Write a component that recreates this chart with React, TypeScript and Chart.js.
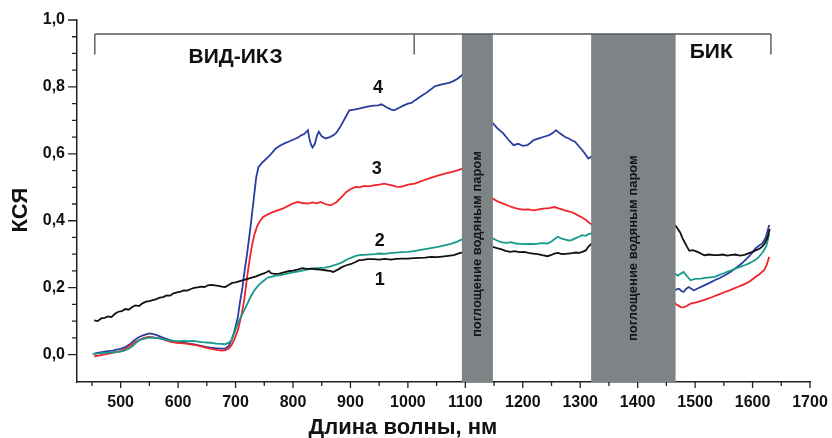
import { useEffect, useRef } from "react";
import { Chart, registerables } from "chart.js";

Chart.register(...registerables);

// ---------- data ----------
const wl1 = [454, 460, 466, 472, 478, 484, 490, 496, 502, 508, 514, 520, 526, 532, 538, 544, 550, 556, 562, 568, 574, 580, 586, 592, 598, 604, 610, 616, 622, 628, 634, 640, 646, 652, 658, 664, 670, 676, 682, 688, 694, 700, 706, 712, 718, 724, 730, 736, 742, 748, 754, 758, 762, 768, 776, 784, 792, 800, 808, 816, 824, 832, 840, 848, 856, 864, 870, 878, 886, 893, 900, 908, 915, 922, 930, 940, 950, 960, 971, 980, 990, 1000, 1010, 1020, 1030, 1040, 1050, 1060, 1070, 1080, 1090, 1094, 1148, 1155, 1162, 1170, 1178, 1186, 1194, 1202, 1210, 1218, 1226, 1234, 1243, 1250, 1255, 1261, 1268, 1274, 1279, 1286, 1292, 1298, 1304, 1310, 1314, 1319, 1466, 1470, 1474, 1478, 1482, 1486, 1490, 1496, 1504, 1510, 1516, 1524, 1532, 1540, 1548, 1556, 1564, 1570, 1578, 1586, 1594, 1600, 1606, 1612, 1618, 1622, 1626, 1630];
const ks1 = [0.102, 0.100, 0.108, 0.110, 0.114, 0.112, 0.122, 0.128, 0.130, 0.136, 0.134, 0.142, 0.147, 0.145, 0.153, 0.158, 0.160, 0.163, 0.166, 0.170, 0.172, 0.177, 0.176, 0.183, 0.186, 0.188, 0.192, 0.191, 0.196, 0.199, 0.201, 0.203, 0.202, 0.207, 0.208, 0.207, 0.205, 0.203, 0.202, 0.208, 0.214, 0.216, 0.219, 0.222, 0.225, 0.228, 0.231, 0.234, 0.238, 0.242, 0.246, 0.250, 0.243, 0.241, 0.242, 0.246, 0.249, 0.251, 0.254, 0.258, 0.256, 0.257, 0.255, 0.254, 0.252, 0.250, 0.247, 0.254, 0.262, 0.267, 0.270, 0.276, 0.282, 0.283, 0.285, 0.285, 0.284, 0.286, 0.284, 0.286, 0.287, 0.287, 0.288, 0.289, 0.290, 0.292, 0.291, 0.293, 0.295, 0.297, 0.303, 0.305, 0.322, 0.318, 0.315, 0.310, 0.307, 0.309, 0.306, 0.307, 0.304, 0.302, 0.300, 0.297, 0.294, 0.298, 0.302, 0.304, 0.300, 0.301, 0.302, 0.303, 0.305, 0.304, 0.307, 0.312, 0.322, 0.330, 0.385, 0.375, 0.365, 0.348, 0.335, 0.322, 0.310, 0.312, 0.307, 0.302, 0.297, 0.299, 0.297, 0.297, 0.299, 0.296, 0.298, 0.299, 0.296, 0.298, 0.303, 0.307, 0.312, 0.316, 0.325, 0.335, 0.350, 0.375];

const wl2 = [451, 460, 470, 480, 490, 498, 506, 515, 522, 528, 534, 540, 547, 554, 560, 566, 572, 580, 587, 593, 600, 610, 618, 626, 634, 642, 650, 659, 666, 674, 682, 688, 693, 698, 704, 710, 715, 720, 726, 732, 738, 743, 750, 756, 762, 770, 776, 784, 792, 800, 808, 816, 824, 832, 840, 848, 856, 864, 872, 880, 887, 894, 902, 908, 915, 922, 930, 943, 950, 960, 972, 980, 990, 1000, 1010, 1020, 1030, 1040, 1050, 1060, 1065, 1075, 1085, 1094, 1148, 1155, 1162, 1172, 1180, 1188, 1195, 1202, 1212, 1222, 1232, 1243, 1250, 1256, 1261, 1267, 1273, 1280, 1285, 1292, 1298, 1303, 1310, 1314, 1319, 1466, 1470, 1475, 1480, 1486, 1492, 1500, 1510, 1518, 1526, 1534, 1542, 1550, 1557, 1563, 1570, 1578, 1586, 1593, 1600, 1606, 1611, 1616, 1620, 1624, 1629];
const ks2 = [0.001, 0.003, 0.005, 0.006, 0.007, 0.008, 0.012, 0.018, 0.027, 0.037, 0.044, 0.047, 0.050, 0.051, 0.050, 0.049, 0.047, 0.044, 0.042, 0.041, 0.040, 0.041, 0.040, 0.041, 0.039, 0.037, 0.036, 0.035, 0.033, 0.032, 0.031, 0.035, 0.043, 0.065, 0.093, 0.115, 0.132, 0.150, 0.172, 0.190, 0.203, 0.212, 0.222, 0.230, 0.232, 0.236, 0.237, 0.240, 0.243, 0.246, 0.248, 0.251, 0.254, 0.257, 0.258, 0.259, 0.260, 0.263, 0.267, 0.272, 0.277, 0.284, 0.290, 0.294, 0.297, 0.298, 0.299, 0.300, 0.302, 0.301, 0.304, 0.305, 0.306, 0.307, 0.309, 0.312, 0.315, 0.318, 0.321, 0.325, 0.327, 0.331, 0.337, 0.344, 0.347, 0.341, 0.336, 0.334, 0.336, 0.332, 0.331, 0.330, 0.331, 0.330, 0.333, 0.332, 0.338, 0.346, 0.352, 0.347, 0.344, 0.341, 0.342, 0.348, 0.352, 0.357, 0.355, 0.360, 0.362, 0.240, 0.236, 0.242, 0.247, 0.234, 0.222, 0.226, 0.227, 0.229, 0.231, 0.232, 0.238, 0.243, 0.248, 0.252, 0.257, 0.262, 0.267, 0.272, 0.278, 0.284, 0.292, 0.302, 0.312, 0.325, 0.360];

const wl3 = [454, 462, 470, 478, 486, 493, 500, 509, 516, 522, 528, 534, 540, 548, 555, 562, 570, 578, 587, 595, 605, 615, 625, 635, 643, 652, 660, 670, 676, 682, 688, 693, 698, 704, 710, 715, 720, 725, 729, 733, 737, 742, 748, 756, 765, 773, 782, 790, 800, 809, 817, 826, 834, 841, 848, 856, 865, 870, 876, 884, 893, 900, 909, 916, 924, 932, 940, 950, 959, 966, 974, 980, 987, 995, 1000, 1012, 1020, 1028, 1036, 1045, 1055, 1065, 1075, 1085, 1094, 1148, 1156, 1166, 1176, 1184, 1190, 1200, 1210, 1219, 1228, 1236, 1246, 1255, 1262, 1268, 1273, 1280, 1288, 1296, 1304, 1310, 1316, 1319, 1466, 1470, 1475, 1480, 1486, 1492, 1500, 1508, 1515, 1522, 1530, 1537, 1545, 1552, 1560, 1567, 1574, 1581, 1588, 1596, 1605, 1612, 1620, 1624, 1629];
const ks3 = [-0.005, -0.003, 0.000, 0.002, 0.005, 0.008, 0.010, 0.018, 0.026, 0.033, 0.040, 0.045, 0.049, 0.053, 0.052, 0.050, 0.048, 0.043, 0.038, 0.036, 0.034, 0.033, 0.030, 0.027, 0.023, 0.019, 0.016, 0.013, 0.012, 0.013, 0.018, 0.028, 0.045, 0.073, 0.115, 0.162, 0.230, 0.290, 0.330, 0.360, 0.381, 0.398, 0.411, 0.419, 0.426, 0.431, 0.436, 0.443, 0.452, 0.456, 0.453, 0.451, 0.455, 0.452, 0.456, 0.450, 0.446, 0.450, 0.456, 0.470, 0.486, 0.494, 0.501, 0.500, 0.504, 0.503, 0.506, 0.508, 0.511, 0.508, 0.505, 0.502, 0.501, 0.505, 0.508, 0.511, 0.516, 0.521, 0.526, 0.531, 0.536, 0.541, 0.545, 0.550, 0.555, 0.466, 0.458, 0.451, 0.444, 0.439, 0.436, 0.433, 0.434, 0.431, 0.434, 0.436, 0.438, 0.441, 0.437, 0.434, 0.431, 0.428, 0.424, 0.416, 0.409, 0.402, 0.393, 0.390, 0.152, 0.147, 0.142, 0.141, 0.146, 0.152, 0.155, 0.159, 0.163, 0.167, 0.172, 0.177, 0.182, 0.187, 0.192, 0.197, 0.202, 0.207, 0.212, 0.220, 0.232, 0.240, 0.252, 0.265, 0.292];

const wl4 = [454, 462, 470, 478, 486, 493, 500, 509, 516, 522, 528, 534, 540, 546, 551, 557, 563, 570, 578, 586, 593, 600, 610, 620, 630, 640, 648, 656, 665, 674, 682, 688, 693, 698, 704, 708, 712, 715, 720, 726, 732, 736, 740, 746, 754, 762, 770, 778, 786, 792, 800, 808, 815, 820, 826, 829, 832, 834, 838, 842, 845, 850, 857, 864, 871, 876, 882, 890, 898, 906, 915, 922, 932, 940, 948, 954, 962, 970, 976, 984, 992, 1000, 1006, 1014, 1022, 1030, 1038, 1047, 1056, 1065, 1072, 1080, 1087, 1094, 1148, 1156, 1166, 1175, 1184, 1192, 1200, 1208, 1214, 1219, 1228, 1237, 1246, 1252, 1258, 1264, 1273, 1280, 1286, 1291, 1298, 1304, 1308, 1314, 1319, 1463, 1468, 1472, 1476, 1480, 1484, 1489, 1494, 1498, 1506, 1516, 1526, 1534, 1543, 1552, 1560, 1568, 1575, 1581, 1588, 1596, 1605, 1611, 1617, 1623, 1629];
const ks4 = [0.003, 0.006, 0.008, 0.010, 0.012, 0.015, 0.017, 0.023, 0.031, 0.040, 0.048, 0.054, 0.058, 0.061, 0.063, 0.061, 0.058, 0.053, 0.048, 0.043, 0.038, 0.036, 0.035, 0.033, 0.030, 0.026, 0.023, 0.021, 0.019, 0.018, 0.018, 0.025, 0.043, 0.070, 0.112, 0.160, 0.200, 0.242, 0.300, 0.381, 0.470, 0.530, 0.561, 0.573, 0.586, 0.600, 0.616, 0.625, 0.632, 0.636, 0.642, 0.648, 0.656, 0.660, 0.671, 0.641, 0.625, 0.619, 0.630, 0.655, 0.666, 0.652, 0.646, 0.650, 0.656, 0.664, 0.680, 0.705, 0.730, 0.732, 0.735, 0.738, 0.742, 0.744, 0.745, 0.748, 0.740, 0.733, 0.730, 0.737, 0.744, 0.750, 0.752, 0.762, 0.771, 0.780, 0.790, 0.802, 0.806, 0.810, 0.812, 0.818, 0.825, 0.835, 0.691, 0.676, 0.661, 0.642, 0.626, 0.630, 0.624, 0.626, 0.634, 0.641, 0.646, 0.651, 0.656, 0.662, 0.671, 0.662, 0.651, 0.646, 0.640, 0.636, 0.622, 0.610, 0.601, 0.586, 0.591, 0.192, 0.195, 0.197, 0.190, 0.187, 0.196, 0.202, 0.196, 0.192, 0.199, 0.207, 0.215, 0.222, 0.229, 0.237, 0.245, 0.255, 0.264, 0.272, 0.284, 0.297, 0.317, 0.325, 0.332, 0.350, 0.387];

const xMajorTicks = [500, 600, 700, 800, 900, 1000, 1100, 1200, 1300, 1400, 1500, 1600, 1700];
const xMinorTicks = [450, 550, 650, 750, 850, 950, 1050, 1150, 1250, 1350, 1450, 1550, 1650];
const yMajorTicks = [0, 0.2, 0.4, 0.6, 0.8, 1.0];
const yMinorTicks = [0.05, 0.1, 0.15, 0.25, 0.3, 0.35, 0.45, 0.5, 0.55, 0.65, 0.7, 0.75, 0.85, 0.9, 0.95];

const bandRanges = [[1094, 1148], [1319, 1466]];
const bandText = "поглощение водяным паром";
const regionNames = ["ВИД-ИКЗ", "БИК"];
const regionBracket = [455, 1011, 1632];
const seriesNames = ["1", "2", "3", "4"];
const xTitle = "Длина волны, нм";
const yTitle = "КСЯ";

const FONT = '"Liberation Sans", Arial, Helvetica, sans-serif';

const toPoints = (xs: number[], ys: number[]) => xs.map((x, i) => ({ x, y: ys[i] }));

const overlayPlugin = {
  id: "overlay",
  afterDatasetsDraw(chart: any) {
    const { ctx, chartArea, scales } = chart;
    const xs = scales.x;
    const ys = scales.y;
    const X = (v: number) => xs.getPixelForValue(v);
    const Y = (v: number) => ys.getPixelForValue(v);
    ctx.save();

    // absorption bands
    const bandTop = Y(0.958);
    const bandTextY = [Y(0.33), Y(0.318)];
    bandRanges.forEach(([a, b], i) => {
      const x0 = X(a);
      const x1 = X(b);
      ctx.fillStyle = "#7e8486";
      ctx.fillRect(x0, bandTop, x1 - x0, chartArea.bottom - bandTop);
      ctx.save();
      ctx.translate((x0 + x1) / 2, bandTextY[i]);
      ctx.rotate(-Math.PI / 2);
      ctx.fillStyle = "#151515";
      ctx.font = `bold 13px ${FONT}`;
      ctx.textAlign = "center";
      ctx.textBaseline = "middle";
      ctx.fillText(bandText, 0, 0);
      ctx.restore();
    });

    // region bracket
    ctx.strokeStyle = "#555a5c";
    ctx.lineWidth = 1.4;
    const yb = Y(0.958);
    const ybTick = Y(0.897);
    ctx.beginPath();
    ctx.moveTo(X(regionBracket[0]), yb);
    ctx.lineTo(X(regionBracket[2]), yb);
    regionBracket.forEach((v) => {
      ctx.moveTo(X(v), yb);
      ctx.lineTo(X(v), ybTick);
    });
    ctx.stroke();

    ctx.fillStyle = "#111";
    ctx.textAlign = "center";
    ctx.textBaseline = "middle";
    ctx.font = `bold 21px ${FONT}`;
    ctx.fillText(regionNames[0], X(700), Y(0.89));
    ctx.fillText(regionNames[1], X(1528), Y(0.903));

    // series labels
    ctx.font = `bold 18px ${FONT}`;
    const lblPos = [
      [951, 0.222],
      [951, 0.34],
      [946, 0.556],
      [948, 0.798],
    ];
    seriesNames.forEach((s, i) => {
      ctx.fillText(s, X(lblPos[i][0]), Y(lblPos[i][1]));
    });

    ctx.restore();
  },
  afterDraw(chart: any) {
    const { ctx, chartArea, scales } = chart;
    const xs = scales.x;
    const ys = scales.y;
    ctx.save();
    ctx.strokeStyle = "#222";
    ctx.lineWidth = 1.3;
    ctx.beginPath();
    yMajorTicks.forEach((v) => {
      const p = ys.getPixelForValue(v);
      ctx.moveTo(chartArea.left - 9, p);
      ctx.lineTo(chartArea.left, p);
    });
    yMinorTicks.forEach((v) => {
      const p = ys.getPixelForValue(v);
      ctx.moveTo(chartArea.left - 5, p);
      ctx.lineTo(chartArea.left, p);
    });
    xMajorTicks.forEach((v) => {
      const p = xs.getPixelForValue(v);
      ctx.moveTo(p, chartArea.bottom);
      ctx.lineTo(p, chartArea.bottom + 6);
    });
    xMinorTicks.forEach((v) => {
      const p = xs.getPixelForValue(v);
      ctx.moveTo(p, chartArea.bottom);
      ctx.lineTo(p, chartArea.bottom + 4);
    });
    ctx.stroke();

    // axis titles
    ctx.fillStyle = "#111";
    ctx.font = `bold 22px ${FONT}`;
    ctx.textAlign = "center";
    ctx.textBaseline = "middle";
    ctx.fillText(xTitle, 403, 428);
    ctx.save();
    ctx.translate(21, 210);
    ctx.rotate(-Math.PI / 2);
    ctx.fillText(yTitle, 0, 0);
    ctx.restore();
    ctx.restore();
  },
};

export default function App() {
  const ref = useRef<HTMLCanvasElement | null>(null);

  useEffect(() => {
    document.body.style.margin = "0";
    if (!ref.current) return;
    const line = (data: { x: number; y: number }[], color: string) => ({
      data,
      borderColor: color,
      backgroundColor: color,
      borderWidth: 1.8,
      pointRadius: 0,
      tension: 0,
      fill: false,
    });
    const chart = new Chart(ref.current, {
      type: "line",
      data: {
        datasets: [
          line(toPoints(wl1, ks1), "#111111"),
          line(toPoints(wl2, ks2), "#179a8b"),
          line(toPoints(wl3, ks3), "#f0252b"),
          line(toPoints(wl4, ks4), "#2b3e9f"),
        ],
      },
      options: {
        animation: false,
        responsive: true,
        maintainAspectRatio: false,
        layout: { padding: { top: 20, right: 22, left: 0, bottom: 0 } },
        plugins: {
          legend: { display: false },
          tooltip: { enabled: false },
        },
        scales: {
          x: {
            type: "linear",
            min: 424,
            max: 1700,
            grid: { display: false, drawTicks: false },
            border: { display: true, color: "#222", width: 1.5 },
            afterBuildTicks: (s: any) => {
              s.ticks = xMajorTicks.map((v) => ({ value: v }));
            },
            afterFit: (s: any) => {
              s.height = 56;
              s.paddingLeft = 0;
              s.paddingRight = 0;
            },
            ticks: {
              autoSkip: false,
              maxRotation: 0,
              padding: 11,
              color: "#111",
              font: { family: FONT, size: 16, weight: "bold" },
              callback: (v: any) => String(v),
            },
          },
          y: {
            type: "linear",
            min: -0.082,
            max: 1.0,
            grid: { display: false, drawTicks: false },
            border: { display: true, color: "#222", width: 1.5 },
            afterBuildTicks: (s: any) => {
              s.ticks = yMajorTicks.map((v) => ({ value: v }));
            },
            afterFit: (s: any) => {
              s.width = 77;
              s.paddingTop = 0;
              s.paddingBottom = 0;
            },
            ticks: {
              padding: 12,
              color: "#111",
              font: { family: FONT, size: 16, weight: "bold" },
              callback: (v: any) => Number(v).toFixed(1).replace(".", ","),
            },
          },
        },
      },
      plugins: [overlayPlugin],
    });
    return () => chart.destroy();
  }, []);

  return (
    <div style={{ width: 832, height: 438, position: "relative", background: "#fff" }}>
      <canvas ref={ref} />
    </div>
  );
}
